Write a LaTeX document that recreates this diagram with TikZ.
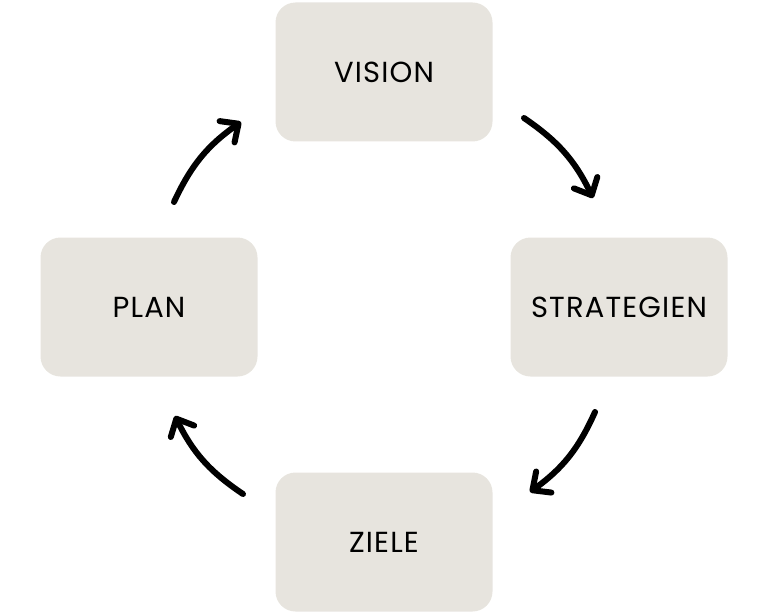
\documentclass[tikz,border=0pt]{standalone}
\usepackage{fontspec}
\setmainfont{Poppins}[LetterSpace=4]
\usetikzlibrary{arrows.meta}
\definecolor{boxc}{HTML}{E7E4DE}
\begin{document}
\begin{tikzpicture}[x=1pt,y=-1pt,
  box/.style={fill=boxc,rounded corners=20pt,minimum width=217pt,minimum height=139pt,inner sep=0pt,font=\fontsize{29}{34}\selectfont},
  cyc/.style={line width=6pt,line cap=round,-{Straight Barb[length=14pt,width=26pt,line cap=round,line join=round]}}]
\useasboundingbox (0,0) rectangle (768,615);
\node[box] (vision) at (384,72) {VISION};
\node[box] (strat) at (619,307) {STRATEGIEN};
\node[box] (plan) at (149,307) {PLAN};
\node[box] (ziele) at (384,542) {ZIELE};
\coordinate (a1s) at (524,118); \coordinate (a1e) at (593,198);
\coordinate (a2s) at (595,412); \coordinate (a2e) at (530,492);
\coordinate (a3s) at (243,494); \coordinate (a3e) at (175,416);
\coordinate (a4s) at (174,202); \coordinate (a4e) at (241,122);
\draw[cyc] (a1s) to[bend left=15] (a1e);
\draw[cyc] (a2s) to[bend left=15] (a2e);
\draw[cyc] (a3s) to[bend left=15] (a3e);
\draw[cyc] (a4s) to[bend left=15] (a4e);
\end{tikzpicture}
\end{document}
